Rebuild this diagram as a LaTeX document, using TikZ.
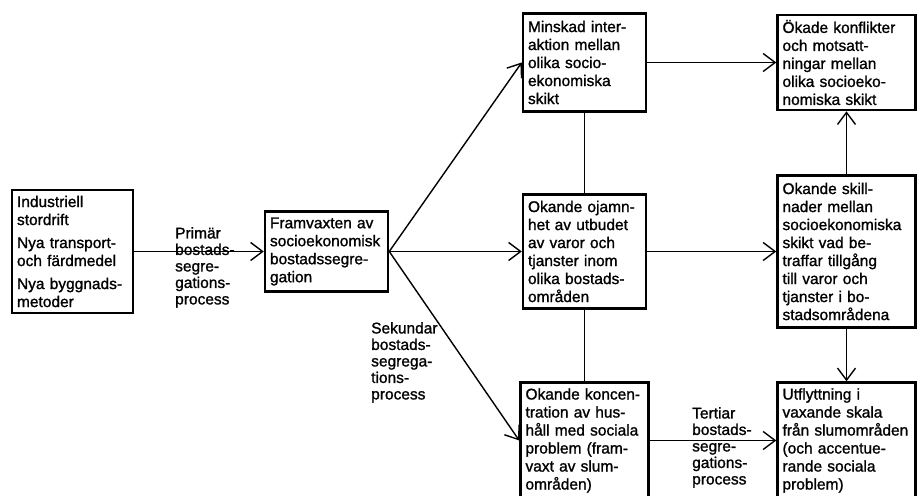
\documentclass[tikz,border=0pt]{standalone}
\usepackage{fontspec}
\setmainfont{Liberation Sans}[BoldFont=Liberation Sans, BoldFeatures={FakeBold=1.2}]
\usetikzlibrary{positioning,arrows.meta}
\newcommand{\boxfont}{\fontsize{15.5}{18}\bfseries\selectfont}
\newcommand{\procfont}{\fontsize{15.5}{16.5}\bfseries\selectfont}
\tikzset{
    on grid,
    node distance=189pt,
    box/.style = {
        draw,
        shape=rectangle,
        align=left,
        inner sep=5pt,
        line width=2.5pt,
        font=\boxfont
    },
    midbox/.style = {
        box,
        text width=113pt,
        minimum height=98pt
    },
    sidebox/.style = {
        box,
        text width=128pt,
        minimum height=95pt
    },
    proc/.style = {
        align=left,
        inner sep=0pt,
        anchor=north west,
        font=\procfont
    },
    conn/.style = {
        line width=1.4pt
    },
    >={Straight Barb[length=12pt,width=18pt]},
}

\begin{document}
\begin{tikzpicture}[x=1pt,y=1pt]
        \clip (0,0) rectangle (917,-495);

        \node[box, text width=111pt, minimum height=123pt] (industri) at (72.5,-251.5)
            {Industriell\\stordrift\\[5pt]Nya transport-\\och färdmedel\\[5pt]Nya byggnads-\\metoder};
        \node[box, text width=113pt, minimum height=80pt, right=254pt of industri] (framvaxt)
            {Framvaxten av\\socioekonomisk\\bostadssegre-\\gation};

        \node[midbox, minimum height=114pt, right=258pt of framvaxt] (ojamnhet)
            {Okande ojamn-\\het av utbudet\\av varor och\\tjanster inom\\olika bostads-\\områden};
        \node[midbox, above=189pt of ojamnhet] (interaktion)
            {Minskad inter-\\aktion mellan\\olika socio-\\ekonomiska\\skikt};
        \node[midbox, text width=118pt, minimum height=116pt, below=189pt of ojamnhet] (koncentration)
            {Okande koncen-\\tration av hus-\\håll med sociala\\problem (fram-\\vaxt av slum-\\områden)};

        \node[sidebox, minimum height=152pt, right=262pt of ojamnhet] (skillnader)
            {Okande skill-\\nader mellan\\socioekonomiska\\skikt vad be-\\traffar tillgång\\till varor och\\tjanster i bo-\\stadsområdena};
        \node[sidebox, above=189pt of skillnader] (konflikter)
            {Ökade konflikter\\och motsatt-\\ningar mellan\\olika socioeko-\\nomiska skikt};
        \node[sidebox, minimum height=116pt, below=189pt of skillnader] (utflyttning)
            {Utflyttning i\\vaxande skala\\från slumområden\\(och accentue-\\rande sociala\\problem)};

        % process labels
        \node[proc] (primar) at (175,-227) {Primär\\bostads-\\segre-\\gations-\\process};
        \node[proc] (sekundar) at (371,-322) {Sekundar\\bostads-\\segrega-\\tions-\\process};
        \node[proc] (tertiar) at (692,-407) {Tertiar\\bostads-\\segre-\\gations-\\process};

        \path[draw, conn, ->] (industri) -- (framvaxt);

        \path[draw, conn, ->] (framvaxt.east) -- (interaktion.west);
        \path[draw, conn, ->] (framvaxt.east) -- (ojamnhet.west);
        \path[draw, conn, ->] (framvaxt.east) -- (koncentration.west);

        \path[draw, conn, -] (interaktion) -- (ojamnhet);
        \path[draw, conn, -] (ojamnhet) -- (koncentration);

        \path[draw, conn, ->] (interaktion) -- (konflikter);
        \path[draw, conn, ->] (ojamnhet) -- (skillnader);
        \path[draw, conn, ->] (koncentration) -- (utflyttning);

        \path[draw, conn, ->] (skillnader) -- (konflikter);
        \path[draw, conn, ->] (skillnader) -- (utflyttning);
    \end{tikzpicture}
\end{document}
